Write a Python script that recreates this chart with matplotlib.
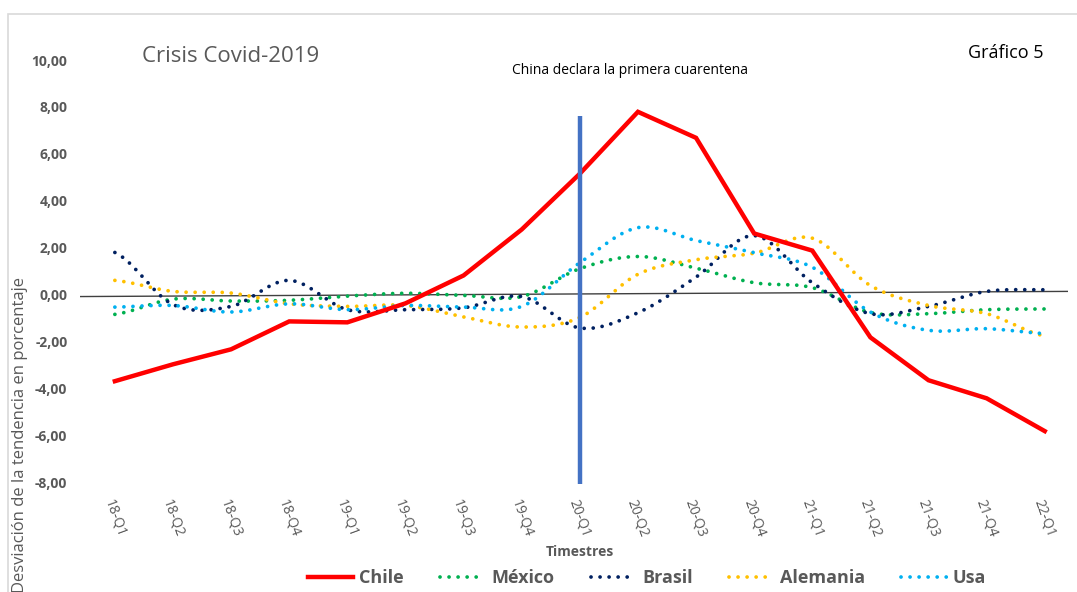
import numpy as np
import matplotlib
matplotlib.use("Agg")
from matplotlib import pyplot as plt
from matplotlib.patches import Rectangle
from matplotlib.transforms import ScaledTranslation

# trimestres
quarters = ["18-Q1", "18-Q2", "18-Q3", "18-Q4", "19-Q1", "19-Q2", "19-Q3", "19-Q4",
            "20-Q1", "20-Q2", "20-Q3", "20-Q4", "21-Q1", "21-Q2", "21-Q3", "21-Q4", "22-Q1"]

# desviacion de la tendencia (%)
chile = [-3.70, -2.98, -2.34, -1.15, -1.19, -0.38, 0.81, 2.77,
         5.15, 7.79, 6.68, 2.60, 1.87, -1.83, -3.66, -4.43, -5.83]
mexico = [-0.85, -0.20, -0.28, -0.25, -0.07, 0.05, -0.04, -0.09,
          1.10, 1.62, 1.12, 0.50, 0.29, -0.77, -0.82, -0.65, -0.62]
brasil = [1.79, -0.43, -0.51, 0.60, -0.65, -0.65, -0.57, -0.09,
          -1.43, -0.78, 0.74, 2.51, 0.50, -0.82, -0.51, 0.13, 0.20]
alemania = [0.60, 0.13, 0.06, -0.40, -0.51, -0.47, -0.96, -1.39,
            -0.98, 0.86, 1.48, 1.76, 2.40, 0.38, -0.47, -0.82, -1.77]
usa = [-0.54, -0.47, -0.75, -0.40, -0.65, -0.47, -0.54, -0.51,
       1.35, 2.85, 2.30, 1.78, 1.16, -0.75, -1.53, -1.46, -1.67]

yticks = [-8, -6, -4, -2, 0, 2, 4, 6, 8, 10]

GRAY = "#595959"
FONT = "Open Sans"
plt.rcParams["font.family"] = [FONT, "DejaVu Sans"]


def smooth(y, n=20):
    # curva suavizada tipo Excel (Catmull-Rom)
    y = np.asarray(y, dtype=float)
    x = np.arange(len(y), dtype=float)
    px = np.concatenate([[2 * x[0] - x[1]], x, [2 * x[-1] - x[-2]]])
    py = np.concatenate([[y[0]], y, [y[-1]]])
    xs, ys = [], []
    t = np.linspace(0, 1, n, endpoint=False)
    for i in range(1, len(px) - 2):
        p0, p1, p2, p3 = py[i - 1], py[i], py[i + 1], py[i + 2]
        q0, q1, q2, q3 = px[i - 1], px[i], px[i + 1], px[i + 2]
        a = lambda v0, v1, v2, v3: 0.5 * (2 * v1 + (-v0 + v2) * t
                                          + (2 * v0 - 5 * v1 + 4 * v2 - v3) * t ** 2
                                          + (-v0 + 3 * v1 - 3 * v2 + v3) * t ** 3)
        xs.append(a(q0, q1, q2, q3))
        ys.append(a(p0, p1, p2, p3))
    xs.append([x[-1]])
    ys.append([y[-1]])
    return np.concatenate(xs), np.concatenate(ys)


fig = plt.figure(figsize=(10.77, 5.92), dpi=100)
fig.patches.append(Rectangle((8 / 1077, -0.1), 1.2, 1 - 14 / 592 + 0.1, transform=fig.transFigure,
                             fill=False, edgecolor="#D9D9D9", linewidth=1.2))

ax = fig.add_axes([80 / 1077, 110 / 592, 988 / 1077, 422 / 592])
ax.set_xlim(-0.6, 16.4)
ax.set_ylim(-8, 10)
for s in ax.spines.values():
    s.set_visible(False)

x = np.arange(len(quarters))
dots = (0, (0.01, 2.4))

# linea base
ax.plot([-0.6, 16.4], [-0.09, 0.13], color="#404040", lw=1.0, zorder=1)

series = [("México", mexico, "#00B050"), ("Brasil", brasil, "#002060"),
          ("Alemania", alemania, "#FFC000"), ("Usa", usa, "#00B0F0")]
handles = {}
for name, vals, col in series:
    sx, sy = smooth(vals)
    h, = ax.plot(sx, sy, color=col, lw=2.7, linestyle=dots, dash_capstyle="round", zorder=3, label=name)
    handles[name] = h

h_chile, = ax.plot(x, chile, color="#FF0000", lw=3.2, solid_joinstyle="miter", zorder=4, label="Chile")

# China declara la primera cuarentena
ax.plot([8, 8], [-8.1, 7.6], color="#4472C4", lw=3.2, solid_capstyle="butt", zorder=5, clip_on=False)

ax.set_xticks(x)
ax.set_xticklabels(quarters, rotation=-70, ha="center", va="top", color=GRAY, fontsize=10)
shift = ScaledTranslation(4 / 100, 0, fig.dpi_scale_trans)
for lbl in ax.get_xticklabels():
    lbl.set_transform(lbl.get_transform() + shift)
ax.set_yticks(yticks)
ax.set_yticklabels([f"{v:.2f}".replace(".", ",") for v in yticks], color=GRAY, fontsize=10,
                   fontweight="bold")
ax.tick_params(axis="both", length=0)
ax.tick_params(axis="y", pad=9)
ax.tick_params(axis="x", pad=11)

fig.text(142 / 1077, 1 - 57 / 592, "Crisis Covid-2019", fontsize=16, color=GRAY, va="center", ha="left")
fig.text(968 / 1077, 1 - 53 / 592, "Gráfico 5", fontsize=13, color="black", va="center", ha="left")
fig.text(630 / 1077, 1 - 71 / 592, "China declara la primera cuarentena", fontsize=10, color="black",
         va="center", ha="center")
fig.text(580 / 1077, 1 - 552 / 592, "Timestres", fontsize=10, color=GRAY, fontweight="bold",
         va="center", ha="center")
fig.text(20 / 1077, 1 - 277 / 592, "Desviación de la tendencia en porcentaje", fontsize=12, color=GRAY,
         rotation=90, va="top", ha="center")

leg = fig.legend([h_chile] + [handles[n] for n, _, _ in series],
                 ["Chile"] + [n for n, _, _ in series],
                 loc="center", bbox_to_anchor=(647 / 1077, 1 - 578 / 592), ncol=5, frameon=False,
                 fontsize=13, handlelength=2.5, handletextpad=0.35, columnspacing=2.0)
for t in leg.get_texts():
    t.set_color(GRAY)
    t.set_fontweight("bold")

fig.savefig("out.png", dpi=100)
